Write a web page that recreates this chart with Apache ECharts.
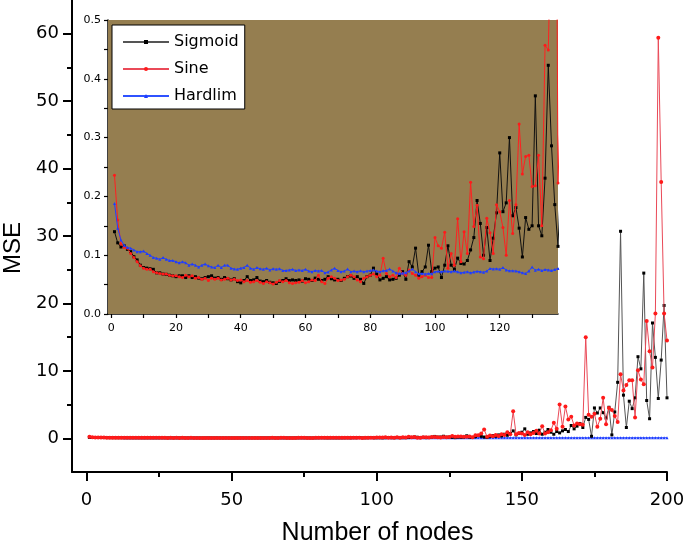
<!DOCTYPE html>
<html>
<head>
<meta charset="utf-8">
<script src="https://cdn.jsdelivr.net/npm/echarts@6/dist/echarts.min.js"></script>
<style>html,body{margin:0;padding:0;background:#fff}#c{width:685px;height:546px}</style>
</head>
<body>
<div id="c"></div>
<script>
// ---- data (MSE vs number of hidden nodes, nodes 1..200) ----
var nodes = [];
for (var i = 1; i <= 200; i++) nodes.push(i);

var sigmoid = [
0.140,0.121,0.114,0.116,0.110,0.106,0.0975,0.092,0.083,0.079,
0.078,0.077,0.076,0.070,0.070,0.068,0.0675,0.066,0.065,0.0635,
0.065,0.065,0.062,0.065,0.062,0.0635,0.061,0.060,0.062,0.0635,
0.065,0.061,0.062,0.059,0.062,0.060,0.058,0.060,0.055,0.053,
0.057,0.0635,0.057,0.058,0.062,0.056,0.055,0.057,0.054,0.053,
0.052,0.0555,0.057,0.060,0.057,0.058,0.057,0.058,0.056,0.060,
0.059,0.057,0.061,0.059,0.057,0.059,0.0635,0.060,0.058,0.059,
0.057,0.0607,0.0635,0.0646,0.0607,0.0635,0.059,0.052,0.0635,0.066,
0.078,0.068,0.058,0.0607,0.0635,0.058,0.059,0.0607,0.066,0.072,
0.059,0.089,0.080,0.112,0.066,0.072,0.080,0.117,0.072,0.078,
0.080,0.062,0.083,0.116,0.083,0.076,0.095,0.086,0.085,0.091,
0.109,0.130,0.193,0.154,0.100,0.147,0.091,0.129,0.172,0.274,
0.174,0.189,0.300,0.167,0.181,0.146,0.097,0.164,0.144,0.150,
0.371,0.150,0.133,0.231,0.423,0.286,0.186,0.115,0.25,0.4,
0.3,0.5,0.35,0.6,0.45,0.7,1.1,0.5,0.7,0.9,
1.4,0.6,0.8,1.0,0.7,1.2,0.6,0.9,1.3,0.9,
0.6,1.0,0.8,1.1,1.3,1.0,1.9,1.4,1.8,2.2,
1.6,3.1,2.8,0.3,4.5,3.75,4.5,3.8,3.0,4.6,
0.5,3.9,8.3,30.7,6.4,1.6,5.5,4.4,6.0,12.1,
10.3,24.5,5.6,2.9,17.1,12.0,5.9,11.6,19.7,6.0
];

var sine = [
0.236,0.160,0.119,0.113,0.112,0.103,0.096,0.089,0.082,0.078,
0.076,0.076,0.072,0.070,0.069,0.068,0.068,0.066,0.065,0.065,
0.0635,0.062,0.066,0.0635,0.065,0.061,0.062,0.059,0.061,0.057,
0.061,0.059,0.061,0.058,0.059,0.061,0.058,0.059,0.057,0.058,
0.055,0.057,0.054,0.055,0.057,0.054,0.052,0.055,0.053,0.051,
0.054,0.057,0.055,0.057,0.053,0.052,0.053,0.054,0.057,0.053,
0.055,0.058,0.057,0.066,0.055,0.052,0.061,0.0635,0.0607,0.057,
0.058,0.059,0.0635,0.066,0.0635,0.058,0.055,0.0607,0.0635,0.066,
0.068,0.0635,0.066,0.095,0.069,0.0635,0.066,0.062,0.078,0.069,
0.066,0.075,0.069,0.066,0.0607,0.0635,0.066,0.062,0.062,0.130,
0.116,0.112,0.139,0.078,0.103,0.083,0.162,0.089,0.140,0.103,
0.224,0.149,0.185,0.097,0.094,0.163,0.138,0.103,0.186,0.174,
0.147,0.100,0.193,0.137,0.186,0.323,0.238,0.268,0.270,0.217,
0.218,0.270,0.150,0.457,0.449,0.70,1.3,0.223,0.4,0.3,
0.5,0.35,0.6,0.5,0.9,0.6,4.0,0.6,0.8,0.7,
0.5,0.9,0.6,0.8,1.1,0.7,1.8,0.7,0.9,1.2,
2.3,1.4,5.0,1.7,4.7,2.8,3.2,1.9,2.2,2.1,
2.0,15.0,3.5,3.2,3.65,1.7,2.9,6.0,2.1,4.5,
4.2,3.3,2.4,9.5,7.1,7.9,8.6,8.6,3.1,10.1,
8.7,8.0,17.4,12.9,10.5,18.5,59.4,38.0,18.5,14.5
];

var hardlim = [
0.188,0.146,0.126,0.117,0.113,0.112,0.109,0.106,0.106,0.107,
0.103,0.100,0.096,0.095,0.093,0.096,0.093,0.091,0.091,0.089,
0.087,0.089,0.087,0.083,0.085,0.083,0.080,0.083,0.085,0.082,
0.080,0.079,0.083,0.079,0.083,0.083,0.078,0.0765,0.076,0.078,
0.079,0.083,0.078,0.076,0.079,0.077,0.076,0.078,0.075,0.077,
0.076,0.077,0.074,0.074,0.075,0.076,0.074,0.075,0.074,0.076,
0.073,0.072,0.074,0.073,0.074,0.070,0.0715,0.075,0.078,0.074,
0.072,0.073,0.0765,0.072,0.073,0.072,0.0735,0.072,0.073,0.074,
0.075,0.073,0.072,0.0735,0.074,0.0765,0.073,0.070,0.069,0.0695,
0.070,0.073,0.0765,0.072,0.0685,0.069,0.068,0.069,0.0685,0.072,
0.0725,0.072,0.073,0.0725,0.072,0.073,0.072,0.070,0.071,0.072,
0.070,0.0715,0.0725,0.072,0.071,0.073,0.0775,0.0765,0.077,0.076,
0.079,0.075,0.0735,0.0735,0.073,0.072,0.070,0.069,0.073,0.080,
0.0745,0.076,0.074,0.0755,0.075,0.074,0.0755,0.0775,0.076,0.078,
0.075,0.077,0.079,0.076,0.078,0.080,0.077,0.076,0.079,0.078,
0.081,0.077,0.079,0.078,0.080,0.078,0.077,0.080,0.079,0.081,
0.078,0.080,0.079,0.082,0.078,0.080,0.081,0.079,0.080,0.078,
0.081,0.079,0.082,0.080,0.078,0.081,0.080,0.082,0.079,0.081,
0.080,0.082,0.079,0.081,0.083,0.080,0.082,0.081,0.079,0.082,
0.081,0.083,0.080,0.082,0.081,0.083,0.082,0.080,0.082,0.081
];

var mainXLabels = [0, 50, 100, 150, 200];
var mainXMinor = [25, 75, 125, 175];
var mainYLabels = [0, 10, 20, 30, 40, 50, 60];
var mainYMinor = [5, 15, 25, 35, 45, 55];
var insetXLabels = [0, 20, 40, 60, 80, 100, 120];
var insetXTicks = [0, 10, 20, 30, 40, 50, 60, 70, 80, 90, 100, 110, 120, 130];
var insetYLabels = [0, 0.1, 0.2, 0.3, 0.4, 0.5];

function pairs(arr) { return nodes.map(function (n, i) { return [n, arr[i]]; }); }

var FONT = 'DejaVu Sans';
var chart = echarts.init(document.getElementById('c'), null, {renderer: 'canvas'});

var sigLine = {color: '#555', width: 1};
var sinLine = {color: '#ea4a58', width: 1};
var hlLine = {color: '#2f52ff', width: 1};

chart.setOption({
  animation: false,
  backgroundColor: '#fff',
  textStyle: {fontFamily: FONT},
  grid: [
    {left: 72, top: 0, width: 595, height: 472, containLabel: false, outerBoundsMode: 'none'},
    {left: 108, top: 20, width: 450, height: 294, show: true, backgroundColor: '#957e50', borderWidth: 0, z: 5, containLabel: false, outerBoundsMode: 'none'}
  ],
  legend: {
    left: 112, top: 25, orient: 'vertical',
    backgroundColor: '#fff', borderColor: '#000', borderWidth: 1,
    padding: [8, 6, 4, 10], itemGap: 9, itemWidth: 46, itemHeight: 5,
    textStyle: {fontFamily: FONT, fontSize: 16, color: '#000', lineHeight: 18},
    data: ['Sigmoid', 'Sine', 'Hardlim'], selectedMode: false, z: 20
  },
  xAxis: [
    {type: 'value', gridIndex: 0, position: 'bottom', min: -5, max: 200, splitLine: {show: false},
     axisLine: {onZero: false, lineStyle: {color: '#000', width: 2}},
     axisTick: {inside: false, length: 9, customValues: mainXLabels, lineStyle: {color: '#000', width: 2}},
     axisLabel: {customValues: mainXLabels, fontSize: 18, color: '#000', margin: 19, fontFamily: FONT},
     name: 'Number of nodes', nameLocation: 'middle', nameGap: 49,
     nameTextStyle: {fontSize: 25, color: '#000', fontFamily: 'Liberation Sans', padding: [0, 0, 0, 16]}},
    {type: 'value', gridIndex: 0, position: 'bottom', min: -5, max: 200, splitLine: {show: false},
     axisLine: {show: false, onZero: false},
     axisTick: {inside: false, length: 5, customValues: mainXMinor, lineStyle: {color: '#000', width: 2}},
     axisLabel: {show: false}},
    {type: 'value', gridIndex: 1, position: 'bottom', min: -1, max: 138, splitLine: {show: false},
     axisLine: {onZero: false, lineStyle: {color: '#000', width: 1.5}},
     axisTick: {inside: false, length: 4, customValues: insetXTicks, lineStyle: {color: '#000', width: 1.2}},
     axisLabel: {customValues: insetXLabels, fontSize: 11, color: '#000', margin: 9, fontFamily: FONT}}
  ],
  yAxis: [
    {type: 'value', gridIndex: 0, position: 'left', min: -5, max: 65, splitLine: {show: false},
     axisLine: {onZero: false, lineStyle: {color: '#000', width: 2}},
     axisTick: {inside: false, length: 9, customValues: mainYLabels, lineStyle: {color: '#000', width: 2}},
     axisLabel: {customValues: mainYLabels, fontSize: 18, color: '#000', margin: 13, fontFamily: FONT},
     name: 'MSE', nameLocation: 'middle', nameGap: 46,
     nameTextStyle: {fontSize: 24, color: '#000', fontFamily: 'Liberation Sans', padding: [0, 24, 0, 0]}},
    {type: 'value', gridIndex: 0, position: 'left', min: -5, max: 65, splitLine: {show: false},
     axisLine: {show: false, onZero: false},
     axisTick: {inside: false, length: 5, customValues: mainYMinor, lineStyle: {color: '#000', width: 2}},
     axisLabel: {show: false}},
    {type: 'value', gridIndex: 1, position: 'left', min: 0, max: 0.5, interval: 0.05, splitLine: {show: false},
     axisLine: {onZero: false, lineStyle: {color: '#000', width: 1.5}},
     axisTick: {inside: false, length: 4, lineStyle: {color: '#000', width: 1.2}},
     axisLabel: {customValues: insetYLabels, fontSize: 11, color: '#000', margin: 7, fontFamily: FONT,
       formatter: function (v) { return v.toFixed(1); }}}
  ],
  series: [
    {name: 'Hardlim', type: 'line', xAxisIndex: 0, yAxisIndex: 0, data: pairs(hardlim),
     symbol: 'triangle', symbolSize: 3, lineStyle: hlLine, itemStyle: {color: '#1f3cff'}, z: 2},
    {name: 'Sigmoid', type: 'line', xAxisIndex: 0, yAxisIndex: 0, data: pairs(sigmoid),
     symbol: 'rect', symbolSize: 3, lineStyle: sigLine, itemStyle: {color: '#000'}, z: 3},
    {name: 'Sine', type: 'line', xAxisIndex: 0, yAxisIndex: 0, data: pairs(sine),
     symbol: 'circle', symbolSize: 4, lineStyle: sinLine, itemStyle: {color: '#ff1a1a'}, z: 4},
    {name: 'Sigmoid', type: 'line', xAxisIndex: 2, yAxisIndex: 2, data: pairs(sigmoid),
     symbol: 'rect', symbolSize: 3, lineStyle: {color: '#111', width: 1}, itemStyle: {color: '#000'}, z: 10},
    {name: 'Sine', type: 'line', xAxisIndex: 2, yAxisIndex: 2, data: pairs(sine),
     symbol: 'circle', symbolSize: 3, lineStyle: {color: '#ff2020', width: 1}, itemStyle: {color: '#ff1a1a'}, z: 11},
    {name: 'Hardlim', type: 'line', xAxisIndex: 2, yAxisIndex: 2, data: pairs(hardlim),
     symbol: 'triangle', symbolSize: 3, lineStyle: {color: '#2040ff', width: 1}, itemStyle: {color: '#1f3cff'}, z: 12}
  ]
});
</script>
</body>
</html>
